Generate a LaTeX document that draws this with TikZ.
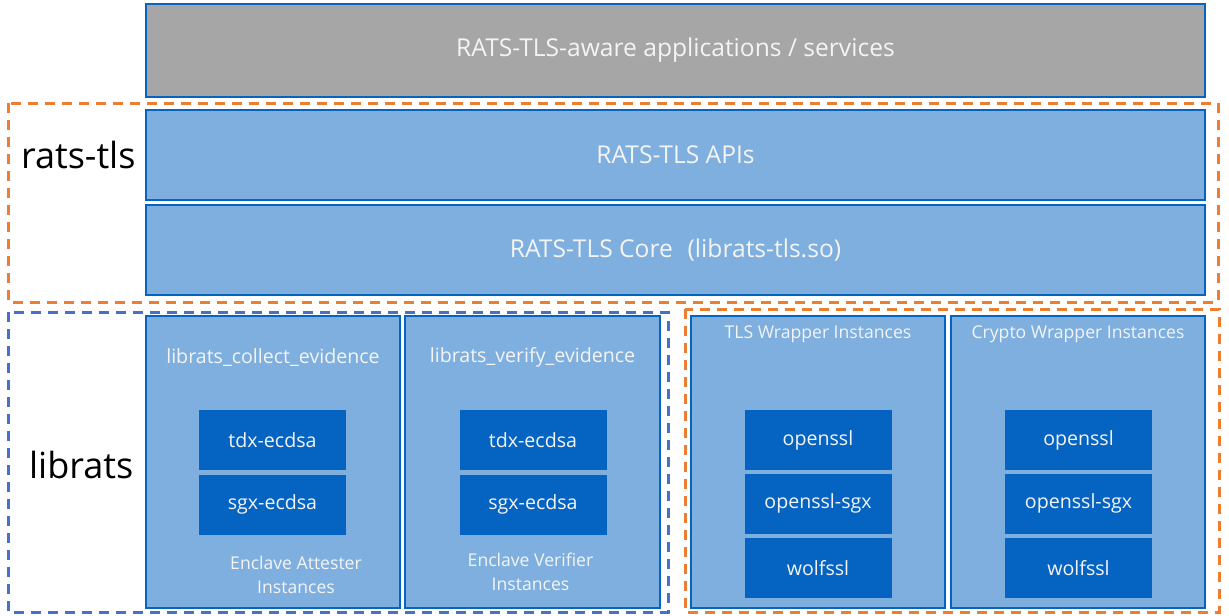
\documentclass[tikz,border=0pt]{standalone}
\usepackage{fontspec}
\setmainfont{Open Sans}
\usepackage{tikz}
\usetikzlibrary{positioning}
\definecolor{boxblue}{HTML}{0563C1}
\definecolor{lightblue}{HTML}{7FAFDF}
\definecolor{appgray}{HTML}{A6A6A6}
\definecolor{frameorange}{HTML}{ED7D31}
\definecolor{frameblue}{HTML}{4472C4}
\definecolor{txtwhite}{HTML}{F4F4F4}

\begin{document}
\begin{tikzpicture}[x=0.5pt,y=-0.5pt,
        layer/.style={draw=boxblue, line width=1.2pt, fill=lightblue, text=txtwhite,
            font=\fontsize{12.3}{14}\selectfont, inner sep=0pt},
        part/.style={layer, minimum width=127pt, minimum height=146pt},
        inst/.style={fill=boxblue, text=txtwhite, minimum width=73.5pt, minimum height=30pt,
            inner sep=0pt, font=\fontsize{9.8}{11}\selectfont},
        title/.style={text=txtwhite, font=\fontsize{8.8}{11}\selectfont, align=center},
        group/.style={dash pattern=on 5pt off 3.5pt, line width=1.5pt},
        grouplabel/.style={font=\fontsize{18}{20}\selectfont, text=black, anchor=west}]
            \useasboundingbox (0,0) rectangle (1229,615);
            % stacked layers
            \node[layer, fill=appgray, minimum width=529.5pt, minimum height=46.5pt] (app) at (675.5,50.5) {RATS-TLS-aware applications / services};
            \node[layer, minimum width=529.5pt, minimum height=45pt] (api) at (675.5,155) {RATS-TLS APIs};
            \node[layer, minimum width=529.5pt, minimum height=45pt] (core) at (675.5,250) {RATS-TLS Core\hspace{0.6em}(librats-tls.so)};
            % library parts
            \node[part] (collect) at (273,462) {};
            \node[part, minimum width=127.5pt] (verify) at (532.5,462) {};
            \node[part] (tls) at (818,462) {};
            \node[part] (crypto) at (1078,462) {};
            \node[title, font=\fontsize{9.8}{11}\selectfont, below=21.5pt of collect.north, anchor=center] (collectT) {librats\_collect\_evidence};
            \node[title, font=\fontsize{9.8}{11}\selectfont, below=21.5pt of verify.north, anchor=center] (verifyT) {librats\_verify\_evidence};
            \node[title, below=9.5pt of tls.north, anchor=center] (tlsT) {TLS Wrapper Instances};
            \node[title, below=9.5pt of crypto.north, anchor=center] (cryptoT) {Crypto Wrapper Instances};
            \node[title, xshift=11.5pt, above=17pt of collect.south, anchor=center] (attester) {Enclave Attester\\[1pt]Instances};
            \node[title, xshift=-1pt, above=18.5pt of verify.south, anchor=center] (verifier) {Enclave Verifier\\[1pt]Instances};
            % instances
            \node[inst] (tdxA) at (272.5,440) {tdx-ecdsa};
            \node[inst, below=2pt of tdxA] (sgxA) {sgx-ecdsa};
            \node[inst] (tdxV) at (533,440) {tdx-ecdsa};
            \node[inst, below=2pt of tdxV] (sgxV) {sgx-ecdsa};
            \node[inst] (sslT) at (818,440) {openssl};
            \node[inst, below=1.5pt of sslT] (sgxT) {openssl-sgx};
            \node[inst, below=1.5pt of sgxT] (wolfT) {wolfssl};
            \node[inst] (sslC) at (1078.5,440) {openssl};
            \node[inst, below=1.5pt of sslC] (sgxC) {openssl-sgx};
            \node[inst, below=1.5pt of sgxC] (wolfC) {wolfssl};
            % dashed groups
            \draw[group, frameorange] (8,103) rectangle (1218,302);
            \draw[group, frameblue] (8,312) rectangle (668,612);
            \draw[group, frameorange] (685,309) rectangle (1219,612);
            \node[grouplabel] (ratstls) at (14,155) {rats-tls};
            \node[grouplabel] (librats) at (22,465) {librats};
        \end{tikzpicture}
\end{document}
